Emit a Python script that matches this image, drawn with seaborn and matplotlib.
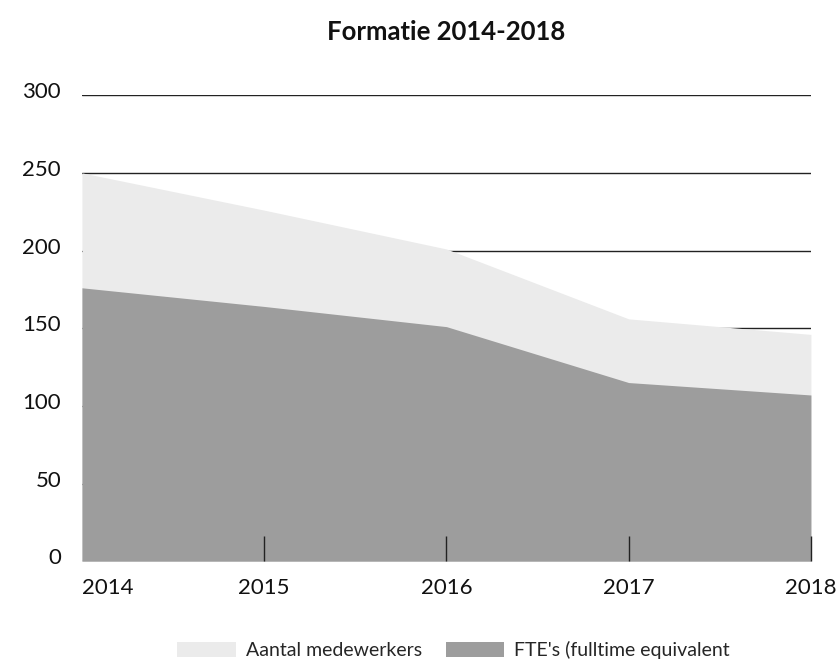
import numpy as np
import pandas as pd
import matplotlib.pyplot as plt
import matplotlib.transforms as mtransforms
import seaborn as sns
from matplotlib.patches import Patch

# data
jaren = [2014, 2015, 2016, 2017, 2018]
medewerkers = [250, 226, 201, 156, 146]
fte = [176, 164, 151, 115, 107]
yticks = [0, 50, 100, 150, 200, 250, 300]

df = pd.DataFrame({'Jaar': jaren, 'Aantal medewerkers': medewerkers,
                   "FTE's (fulltime equivalent": fte})

sns.set_theme(style='white')
plt.rcParams['font.family'] = ['Lato', 'DejaVu Sans']

licht = '#ebebeb'
donker = '#9d9d9d'

fig = plt.figure(figsize=(8.36, 6.61), dpi=100)
ax = fig.add_axes([0.098, 0.151, 0.872, 0.705])

# grid lines under the areas, x ticks above them
ax.set_axisbelow(True)
ax.yaxis.grid(True, color='#222222', linewidth=1)
ax.xaxis.set_zorder(3)

sns.lineplot(data=df, x='Jaar', y='Aantal medewerkers', ax=ax, linewidth=0)
sns.lineplot(data=df, x='Jaar', y="FTE's (fulltime equivalent", ax=ax, linewidth=0)
ax.fill_between(df['Jaar'], df['Aantal medewerkers'], color=licht, linewidth=0, zorder=1)
ax.fill_between(df['Jaar'], df["FTE's (fulltime equivalent"], color=donker, linewidth=0, zorder=1.5)

ax.set_xlim(jaren[0], jaren[-1])
ax.set_ylim(0, 300)
ax.set_yticks(yticks)
ax.set_xticks(jaren)
ax.set_xticklabels([str(j) for j in jaren])
ax.set_xlabel('')
ax.set_ylabel('')

ax.tick_params(axis='y', length=0, labelsize=16, pad=15, labelcolor='#111111')
ax.tick_params(axis='x', bottom=True, direction='in', length=18, width=1, color='#222222',
               labelsize=16, pad=12, labelcolor='#111111')
ax.xaxis.get_major_ticks()[0].tick1line.set_visible(False)
ax.get_xticklabels()[0].set_horizontalalignment('left')

# y labels sit a little above their grid line
omhoog = mtransforms.ScaledTranslation(0, 0.05, fig.dpi_scale_trans)
for lbl in ax.get_yticklabels():
    lbl.set_transform(lbl.get_transform() + omhoog)

for s in ax.spines.values():
    s.set_visible(False)

fig.text(0.534, 0.952, 'Formatie 2014-2018', ha='center', va='center',
         fontsize=18.5, fontweight='bold', color='#111111')

handles = [Patch(facecolor=licht, edgecolor='none', label='Aantal medewerkers'),
           Patch(facecolor=donker, edgecolor='none', label="FTE's (fulltime equivalent")]
fig.legend(handles=handles, loc='center', bbox_to_anchor=(0.5425, 0.016),
           ncol=2, frameon=False, fontsize=14, handlelength=3.0, handleheight=0.8,
           columnspacing=1.25, handletextpad=0.5)

fig.savefig('out.png', dpi=100)
